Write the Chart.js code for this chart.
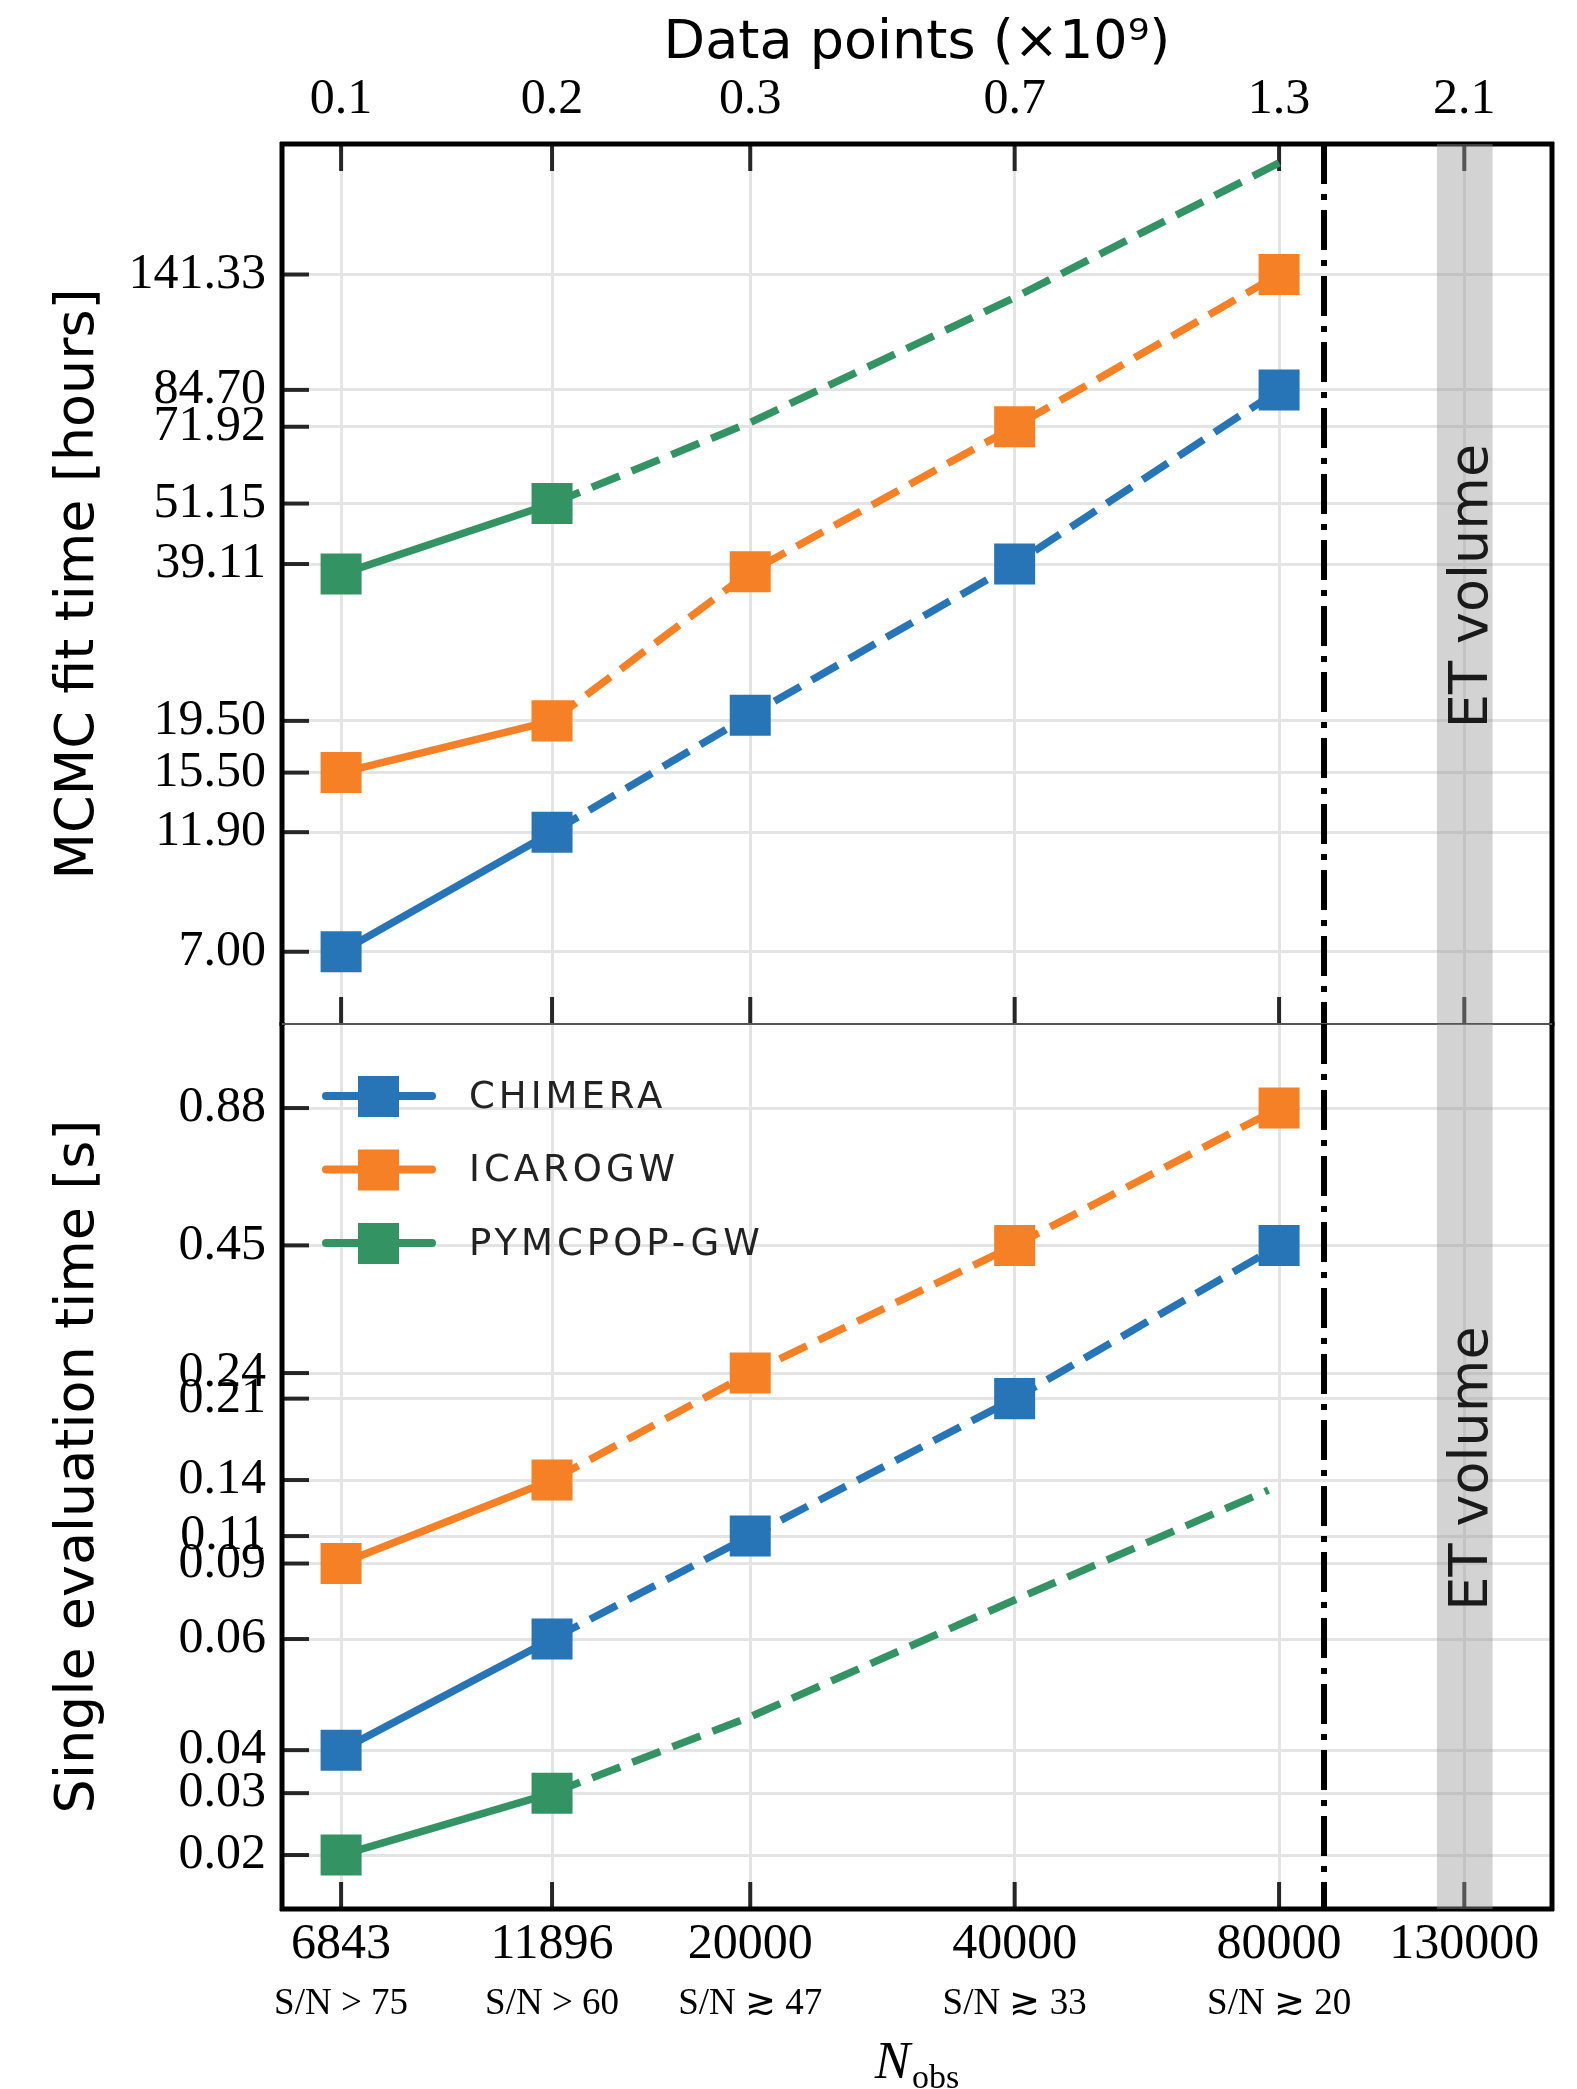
<!DOCTYPE html>
<html>
<head>
<meta charset="utf-8">
<script src="https://cdn.jsdelivr.net/npm/chart.js@4.4.1/dist/chart.umd.min.js"></script>
<style>
html, body { margin: 0; padding: 0; background: #fff; }
#wrap { position: relative; width: 1577px; height: 2089px; }
canvas { position: absolute; left: 0; }
#topChart { top: 0; }
#bottomChart { top: 1000px; }
</style>
</head>
<body>
<div id="wrap">
  <canvas id="topChart" width="1577" height="1040"></canvas>
  <canvas id="bottomChart" width="1577" height="1089"></canvas>
</div>
<script>
// N_obs on the x axis
var nObs = [6843, 11896, 20000, 40000, 80000];
var xTicks = [6843, 11896, 20000, 40000, 80000, 130000];
var dataPointLabels = ['0.1', '0.2', '0.3', '0.7', '1.3', '2.1'];
var nObsLabels = ['6843', '11896', '20000', '40000', '80000', '130000'];
var snLabels = ['S/N > 75', 'S/N > 60', 'S/N \u2273 47', 'S/N \u2273 33', 'S/N \u2273 20', ''];
var horizonLine = 90000;
var etBand = [121000, 140000];

// MCMC fit time [hours]
var fitChimera = [7.00, 11.90, 20.0, 39.11, 84.70];
var fitIcarogw = [15.50, 19.50, 37.8, 71.92, 141.33];
var fitPymcpop = [37.4, 51.15, 73.3, 127.6, 232];
var fitTicks = [141.33, 84.70, 71.92, 51.15, 39.11, 19.50, 15.50, 11.90, 7.00];
var fitTickLabels = ['141.33', '84.70', '71.92', '51.15', '39.11', '19.50', '15.50', '11.90', '7.00'];

// Single evaluation time [s]
var evalChimera = [0.0341, 0.060, 0.1013, 0.2038, 0.4443];
var evalIcarogw = [0.0881, 0.1347, 0.2321, 0.4443, 0.8934];
var nObsPymcpopEval = [6843, 11896, 20000, 40000, 77800];
var evalPymcpop = [0.0200, 0.0274, 0.0404, 0.0732, 0.128];
var evalTicks = [0.8934, 0.4443, 0.2321, 0.2038, 0.1347, 0.1013, 0.0881, 0.060, 0.0341, 0.0274, 0.0200];
var evalTickLabels = ['0.88', '0.45', '0.24', '0.21', '0.14', '0.11', '0.09', '0.06', '0.04', '0.03', '0.02'];

var BLUE = '#2775b6', ORANGE = '#f58025', GREEN = '#349363';
var DASH = [30, 13];
var serif = '"Liberation Serif", "DejaVu Serif", serif';
var sans = '"DejaVu Sans", sans-serif';

function pts(xs, ys) {
  return xs.map(function (x, i) { return { x: x, y: ys[i] }; });
}

function series(label, color, xs, ys, radii) {
  return {
    label: label,
    data: pts(xs, ys),
    borderColor: color,
    backgroundColor: color,
    borderWidth: 7.5,
    borderCapStyle: 'butt',
    pointStyle: 'rect',
    pointRadius: radii || 29,
    pointBorderWidth: 0,
    pointBackgroundColor: color,
    segment: {
      borderDash: function (c) { return c.p0DataIndex >= 1 ? DASH : []; }
    }
  };
}

function line(ctx, x1, y1, x2, y2) {
  ctx.beginPath();
  ctx.moveTo(x1, y1);
  ctx.lineTo(x2, y2);
  ctx.stroke();
}

function noPadding(s) {
  s.paddingTop = 0;
  s.paddingBottom = 0;
  s.paddingLeft = 0;
  s.paddingRight = 0;
}

var decor = {
  id: 'decor',
  beforeDatasetsDraw: function (chart, args, opts) {
    var ctx = chart.ctx, a = chart.chartArea;
    var xs = chart.scales.x, ys = chart.scales.y;
    ctx.save();
    // inward tick marks
    ctx.strokeStyle = '#262626';
    ctx.lineWidth = 4;
    xTicks.forEach(function (v) {
      var px = xs.getPixelForValue(v);
      if (opts.topTicks) line(ctx, px, a.top, px, a.top + 27);
      line(ctx, px, a.bottom, px, a.bottom - 27);
    });
    ys.ticks.forEach(function (t) {
      var py = ys.getPixelForValue(t.value);
      line(ctx, a.left, py, a.left + 27, py);
    });
    // frame
    ctx.strokeStyle = '#000';
    ctx.lineWidth = 5;
    line(ctx, a.left, a.top - 2, a.left, a.bottom + 2);
    line(ctx, a.right, a.top - 2, a.right, a.bottom + 2);
    if (opts.topTicks) line(ctx, a.left - 2, a.top, a.right + 2, a.top);
    else line(ctx, a.left - 2, a.bottom, a.right + 2, a.bottom);
    ctx.strokeStyle = '#555';
    ctx.lineWidth = 2;
    if (opts.topTicks) line(ctx, a.left, a.bottom, a.right, a.bottom);
    else line(ctx, a.left, a.top, a.right, a.top);
    // dash-dot limit
    var dx = xs.getPixelForValue(horizonLine);
    ctx.strokeStyle = '#000';
    ctx.lineWidth = 6;
    ctx.setLineDash([40, 10, 6, 10]);
    line(ctx, dx, a.top, dx, a.bottom);
    ctx.setLineDash([]);
    // ET band
    var b0 = xs.getPixelForValue(etBand[0]), b1 = xs.getPixelForValue(etBand[1]);
    ctx.fillStyle = 'rgba(150,150,150,0.42)';
    ctx.fillRect(b0, a.top, b1 - b0, a.bottom - a.top);
    ctx.restore();
  },
  afterDraw: function (chart, args, opts) {
    var ctx = chart.ctx, a = chart.chartArea;
    var xs = chart.scales.x;
    var cy = (a.top + a.bottom) / 2;
    ctx.save();
    ctx.fillStyle = '#000';
    ctx.font = '54px ' + sans;
    ctx.textAlign = 'center';
    ctx.textBaseline = 'middle';
    // y title
    ctx.save();
    ctx.translate(79, cy);
    ctx.rotate(-Math.PI / 2);
    ctx.fillText(opts.yTitle, 0, 0);
    ctx.restore();
    // ET volume
    ctx.save();
    ctx.fillStyle = '#1a1a1a';
    ctx.translate((xs.getPixelForValue(etBand[0]) + xs.getPixelForValue(etBand[1])) / 2 + 8, cy + 2);
    ctx.rotate(-Math.PI / 2);
    ctx.fillText('ET volume', 0, 0);
    ctx.restore();
    var mid = (a.left + a.right) / 2;
    if (opts.topTicks) {
      ctx.fillText('Data points (\u00d710\u2079)', mid, 44);
    } else {
      // legend
      chart.data.datasets.forEach(function (ds, i) {
        var y = 96 + i * 73.5;
        ctx.strokeStyle = ds.borderColor;
        ctx.lineWidth = 8;
        ctx.lineCap = 'round';
        line(ctx, 326, y, 432, y);
        ctx.fillStyle = ds.borderColor;
        ctx.fillRect(358, y - 20, 41, 41);
        ctx.fillStyle = '#222';
        ctx.font = '37px ' + sans;
        ctx.letterSpacing = '4px';
        ctx.textAlign = 'left';
        ctx.fillText(ds.label, 469, y + 2);
        ctx.letterSpacing = '0px';
      });
      // N_obs
      ctx.fillStyle = '#000';
      ctx.textAlign = 'left';
      ctx.textBaseline = 'alphabetic';
      ctx.font = 'italic 53px ' + serif;
      var wN = ctx.measureText('N').width;
      ctx.font = '34px ' + serif;
      var wS = ctx.measureText('obs').width;
      var x0 = mid - (wN + 2 + wS) / 2;
      ctx.font = 'italic 53px ' + serif;
      ctx.fillText('N', x0, 1078);
      ctx.font = '34px ' + serif;
      ctx.fillText('obs', x0 + wN + 2, 1088);
    }
    ctx.restore();
  }
};

function xScale(position, labels, fontSize, pad, height, grid) {
  return {
    type: 'logarithmic',
    position: position,
    min: 5861,
    max: 163600,
    afterBuildTicks: function (s) { s.ticks = xTicks.map(function (v) { return { value: v }; }); },
    afterFit: function (s) { s.height = height; noPadding(s); },
    ticks: {
      autoSkip: false,
      maxRotation: 0,
      padding: pad,
      color: '#000',
      font: { family: serif, size: fontSize },
      callback: function (v, i) { return labels[i]; }
    },
    grid: { display: grid, color: '#e4e4e4', lineWidth: 3, drawTicks: false },
    border: { display: false }
  };
}

function yScale(min, max, tickVals, tickLabels) {
  return {
    type: 'logarithmic',
    min: min,
    max: max,
    afterBuildTicks: function (s) { s.ticks = tickVals.map(function (v) { return { value: v }; }); },
    afterFit: function (s) { s.width = 282; noPadding(s); },
    ticks: {
      autoSkip: false,
      padding: 16,
      color: '#000',
      font: { family: serif, size: 50 },
      callback: function (v, i) { return tickLabels[i]; }
    },
    grid: { color: '#e4e4e4', lineWidth: 3, drawTicks: false },
    border: { display: false }
  };
}

new Chart(document.getElementById('topChart').getContext('2d'), {
  type: 'line',
  data: {
    datasets: [
      series('CHIMERA', BLUE, nObs, fitChimera),
      series('ICAROGW', ORANGE, nObs, fitIcarogw),
      series('PYMCPOP-GW', GREEN, nObs, fitPymcpop, [29, 29, 0, 0, 0])
    ]
  },
  options: {
    responsive: false,
    animation: false,
    devicePixelRatio: 1,
    layout: { autoPadding: false, padding: { left: 0, right: 25, top: 0, bottom: 16 } },
    scales: {
      x: xScale('top', dataPointLabels, 50, 14, 144, true),
      y: yScale(5.08, 252.2, fitTicks, fitTickLabels)
    },
    plugins: {
      legend: { display: false },
      tooltip: { enabled: false },
      decor: { topTicks: true, yTitle: 'MCMC fit time [hours]' }
    }
  },
  plugins: [decor]
});

var x2 = xScale('bottom', snLabels, 37, 0, 63, false);
x2.weight = 1;
new Chart(document.getElementById('bottomChart').getContext('2d'), {
  type: 'line',
  data: {
    datasets: [
      series('CHIMERA', BLUE, nObs, evalChimera),
      series('ICAROGW', ORANGE, nObs, evalIcarogw),
      series('PYMCPOP-GW', GREEN, nObsPymcpopEval, evalPymcpop, [29, 29, 0, 0, 0])
    ]
  },
  options: {
    responsive: false,
    animation: false,
    devicePixelRatio: 1,
    layout: { autoPadding: false, padding: { left: 0, right: 25, top: 24, bottom: 44 } },
    scales: {
      x: xScale('bottom', nObsLabels, 50, 6, 73, true),
      x2: x2,
      y: yScale(0.0152, 1.370, evalTicks, evalTickLabels)
    },
    plugins: {
      legend: { display: false },
      tooltip: { enabled: false },
      decor: { topTicks: false, yTitle: 'Single evaluation time [s]' }
    }
  },
  plugins: [decor]
});
</script>
</body>
</html>
